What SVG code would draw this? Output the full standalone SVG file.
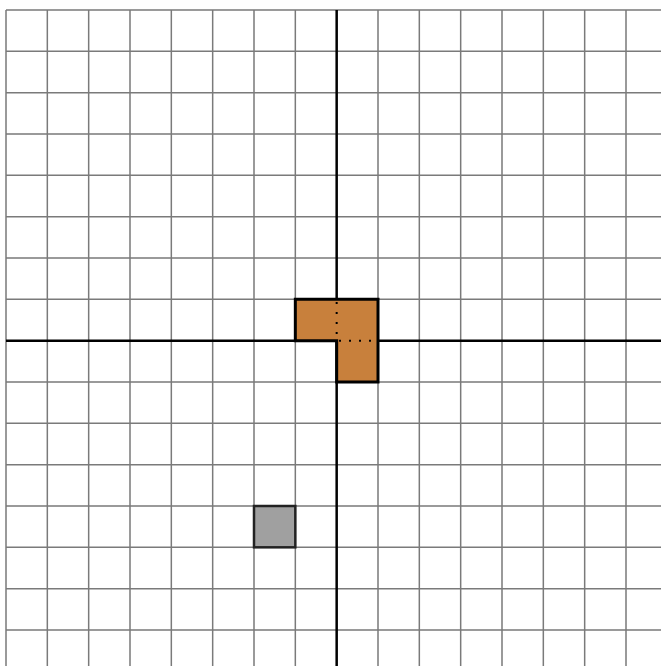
<svg xmlns="http://www.w3.org/2000/svg" width="661" height="666" viewBox="0 0 661 666">
<style>
.grid{stroke:#7a7a7a;stroke-width:1.5;fill:none}
.axis{stroke:#000;stroke-width:2.5;fill:none}
.shape{stroke:#000;stroke-width:3;stroke-linejoin:miter}
.dot{stroke:#000;stroke-width:2;stroke-dasharray:2,8;fill:none}
</style>
<rect width="661" height="666" fill="#fff"/>
<g id="grid" class="grid">
<path d="M6,10V666M47.33,10V666M88.67,10V666M130,10V666M171.33,10V666M212.67,10V666M254,10V666M295.33,10V666M378,10V666M419.33,10V666M460.67,10V666M502,10V666M543.33,10V666M584.67,10V666M626,10V666"/>
<path d="M6,10H661M6,51.33H661M6,92.67H661M6,134H661M6,175.33H661M6,216.67H661M6,258H661M6,299.33H661M6,382H661M6,423.33H661M6,464.67H661M6,506H661M6,547.33H661M6,588.67H661M6,630H661"/>
</g>
<g id="axes" class="axis">
<path d="M336.67,10V666M6,340.67H661"/>
</g>
<g id="gray-cell">
<rect x="254" y="506" width="41.33" height="41.33" fill="#a0a0a0" stroke="#222" stroke-width="2.5"/>
</g>
<g id="orange-piece">
<path class="shape" fill="#c8803c" d="M295.33,299.33H378V382H336.67V340.67H295.33Z"/>
<path class="dot" d="M336.67,302V340.67M339,340.67H378"/>
</g>
</svg>
